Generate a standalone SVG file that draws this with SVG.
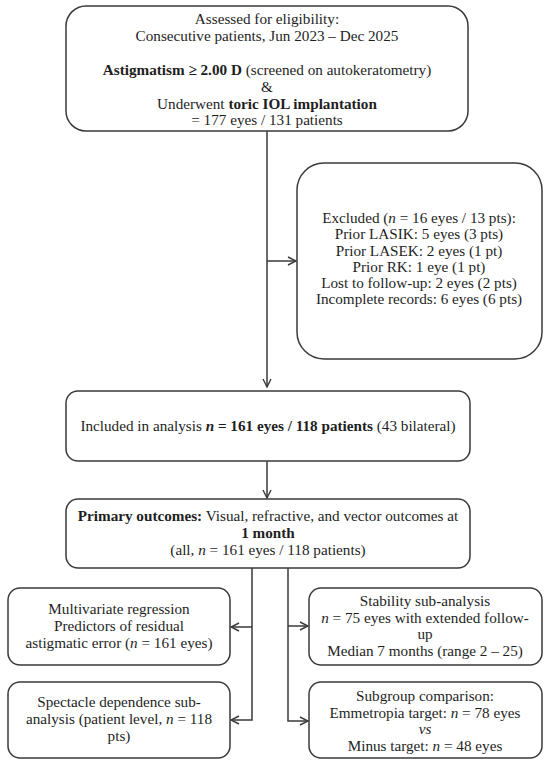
<svg xmlns="http://www.w3.org/2000/svg" width="550" height="767" viewBox="0 0 550 767">
<defs>
<marker id="arr" viewBox="0 0 10 10" refX="9" refY="5" markerWidth="10" markerHeight="10" markerUnits="userSpaceOnUse" orient="auto">
<path d="M1,1 L9,5 L1,9" fill="none" stroke="#3a3a3a" stroke-width="1.4"/>
</marker>
<style>
.box{fill:#fff;stroke:#3a3a3a;stroke-width:1.5}
.ln{fill:none;stroke:#3a3a3a;stroke-width:1.5}
text{font-family:"Liberation Serif","Times New Roman",serif;font-size:15.2px;fill:#1e1e1e;text-anchor:middle}
.b{font-weight:bold}
.i{font-style:italic}
</style>
</defs>
<rect width="550" height="767" fill="#fff"/>
<g id="connectors">
<path class="ln" d="M267,131 V387" marker-end="url(#arr)"/>
<path class="ln" d="M267,261 H296" marker-end="url(#arr)"/>
<path class="ln" d="M267,461 V498" marker-end="url(#arr)"/>
<path class="ln" d="M252,568 V720 H231" marker-end="url(#arr)"/>
<path class="ln" d="M252,627 H231" marker-end="url(#arr)"/>
<path class="ln" d="M288,568 V721 H308" marker-end="url(#arr)"/>
<path class="ln" d="M288,626 H308" marker-end="url(#arr)"/>
</g>
<g id="assessed">
<rect class="box" x="66" y="6" width="402" height="125" rx="20"/>
<text x="267" y="24">Assessed for eligibility:</text>
<text x="267" y="41">Consecutive patients, Jun 2023 – Dec 2025</text>
<text x="267" y="75"><tspan class="b">Astigmatism ≥ 2.00 D</tspan> (screened on autokeratometry)</text>
<text x="267" y="92">&amp;</text>
<text x="267" y="109">Underwent <tspan class="b">toric IOL implantation</tspan></text>
<text x="267" y="125">= 177 eyes / 131 patients</text>
</g>
<g id="excluded">
<rect class="box" x="297" y="163" width="245" height="196" rx="27"/>
<text x="419" y="223">Excluded (<tspan class="i">n</tspan> = 16 eyes / 13 pts):</text>
<text x="419" y="239">Prior LASIK: 5 eyes (3 pts)</text>
<text x="419" y="256">Prior LASEK: 2 eyes (1 pt)</text>
<text x="419" y="272">Prior RK: 1 eye (1 pt)</text>
<text x="419" y="288">Lost to follow-up: 2 eyes (2 pts)</text>
<text x="419" y="304">Incomplete records: 6 eyes (6 pts)</text>
</g>
<g id="included">
<rect class="box" x="66" y="391" width="404" height="70" rx="12"/>
<text x="268" y="431">Included in analysis <tspan class="b"><tspan class="i">n</tspan> = 161 eyes / 118 patients</tspan> (43 bilateral)</text>
</g>
<g id="primary">
<rect class="box" x="66" y="499" width="404" height="69" rx="12"/>
<text x="268" y="521"><tspan class="b">Primary outcomes:</tspan> Visual, refractive, and vector outcomes at</text>
<text x="268" y="538" class="b">1 month</text>
<text x="268" y="555">(all, <tspan class="i">n</tspan> = 161 eyes / 118 patients)</text>
</g>
<g id="regression">
<rect class="box" x="8" y="588" width="222" height="77" rx="12"/>
<text x="119" y="614">Multivariate regression</text>
<text x="119" y="631">Predictors of residual</text>
<text x="119" y="648">astigmatic error (<tspan class="i">n</tspan> = 161 eyes)</text>
</g>
<g id="spectacle">
<rect class="box" x="8" y="682" width="222" height="76" rx="12"/>
<text x="119" y="707">Spectacle dependence sub-</text>
<text x="119" y="724">analysis (patient level, <tspan class="i">n</tspan> = 118</text>
<text x="119" y="741">pts)</text>
</g>
<g id="stability">
<rect class="box" x="309" y="588" width="233" height="77" rx="12"/>
<text x="425" y="606">Stability sub-analysis</text>
<text x="425" y="623"><tspan class="i">n</tspan> = 75 eyes with extended follow-</text>
<text x="425" y="639">up</text>
<text x="425" y="656">Median 7 months (range 2 – 25)</text>
</g>
<g id="subgroup">
<rect class="box" x="309" y="682" width="233" height="76" rx="12"/>
<text x="425" y="701">Subgroup comparison:</text>
<text x="425" y="718">Emmetropia target: <tspan class="i">n</tspan> = 78 eyes</text>
<text x="425" y="734" class="i">vs</text>
<text x="425" y="751">Minus target: <tspan class="i">n</tspan> = 48 eyes</text>
</g>
</svg>
